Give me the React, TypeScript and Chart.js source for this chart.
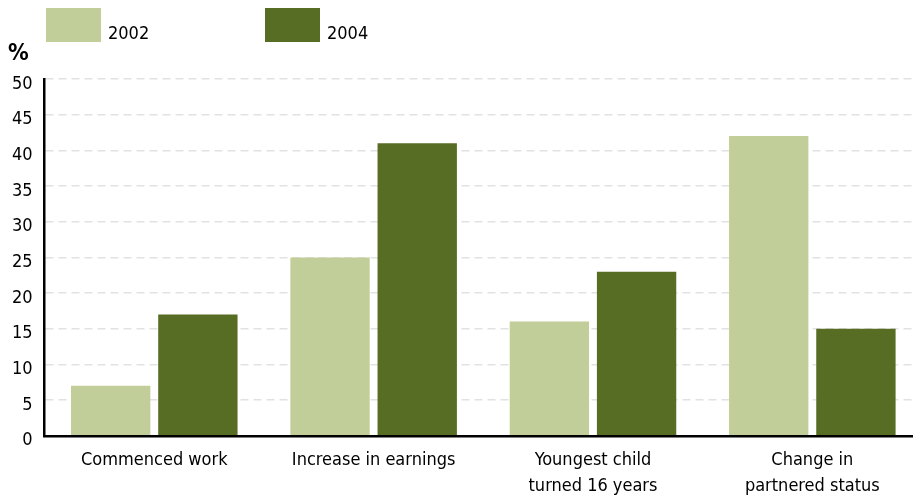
import React, { useEffect, useRef } from "react";
import { Chart, registerables } from "chart.js";

Chart.register(...registerables);

const categories: (string | string[])[] = [
  "Commenced work",
  "Increase in earnings",
  ["Youngest child", "turned 16 years"],
  ["Change in", "partnered status"],
];
const series2002 = [7, 25, 16, 42];
const series2004 = [17, 41, 23, 15];
const seriesNames = ["2002", "2004"];
const yTicks = [0, 5, 10, 15, 20, 25, 30, 35, 40, 45, 50];

const FONT = "'Liberation Sans Narrow', 'Arial Narrow', 'DejaVu Sans Condensed', sans-serif";
const LIGHT = "#c1ce9a";
const DARK = "#566d23";

const legendPlugin = {
  id: "customLegend",
  afterDraw(chart: any) {
    const ctx = chart.ctx;
    ctx.save();
    const positions = [46, 265];
    chart.data.datasets.forEach((ds: any, i: number) => {
      const x = positions[i];
      ctx.fillStyle = ds.backgroundColor;
      ctx.fillRect(x, 8, 55, 34);
      ctx.fillStyle = "#000";
      ctx.font = `18px ${FONT}`;
      ctx.textBaseline = "middle";
      ctx.textAlign = "left";
      ctx.fillText(ds.label, x + 62, 34);
    });
    ctx.font = `bold 23px ${FONT}`;
    ctx.fillStyle = "#000";
    ctx.textBaseline = "middle";
    ctx.textAlign = "left";
    ctx.fillText("%", 8, 54);
    ctx.restore();
  },
};

export default function App() {
  const ref = useRef<HTMLCanvasElement>(null);
  useEffect(() => {
    document.body.style.margin = "0";
    const chart = new Chart(ref.current!, {
      type: "bar",
      data: {
        labels: categories,
        datasets: [
          { label: seriesNames[0], data: series2002, backgroundColor: LIGHT },
          { label: seriesNames[1], data: series2004, backgroundColor: DARK },
        ],
      },
      options: {
        animation: false,
        responsive: false,
        maintainAspectRatio: false,
        layout: { padding: { top: 79, right: 3, left: 0, bottom: -13 } },
        plugins: { legend: { display: false }, tooltip: { enabled: false } },
        datasets: { bar: { categoryPercentage: 0.795, barPercentage: 0.91 } } as any,
        scales: {
          x: {
            grid: { display: false, drawTicks: false },
            border: { display: true, color: "#000", width: 2.5 },
            ticks: {
              color: "#000",
              padding: 11,
              font: { family: FONT, size: 18, lineHeight: 1.45 },
              maxRotation: 0,
              autoSkip: false,
            },
          },
          y: {
            min: 0,
            max: 50,
            afterBuildTicks: (axis: any) => {
              axis.ticks = yTicks.map((v) => ({ value: v }));
            },
            grid: { color: "#e2e2e2", lineWidth: 1.5, drawTicks: false },
            border: { display: true, color: "#000", width: 2.5, dash: [8, 5] } as any,
            ticks: {
              color: "#000",
              padding: 12,
              labelOffset: 5,
              font: { family: FONT, size: 18 },
            },
          },
        },
      } as any,
      plugins: [legendPlugin],
    });
    return () => chart.destroy();
  }, []);
  return (
    <div style={{ width: 913, height: 497, overflow: "hidden" }}>
      <canvas ref={ref} width={925} height={497} style={{ display: "block" }} />
    </div>
  );
}
